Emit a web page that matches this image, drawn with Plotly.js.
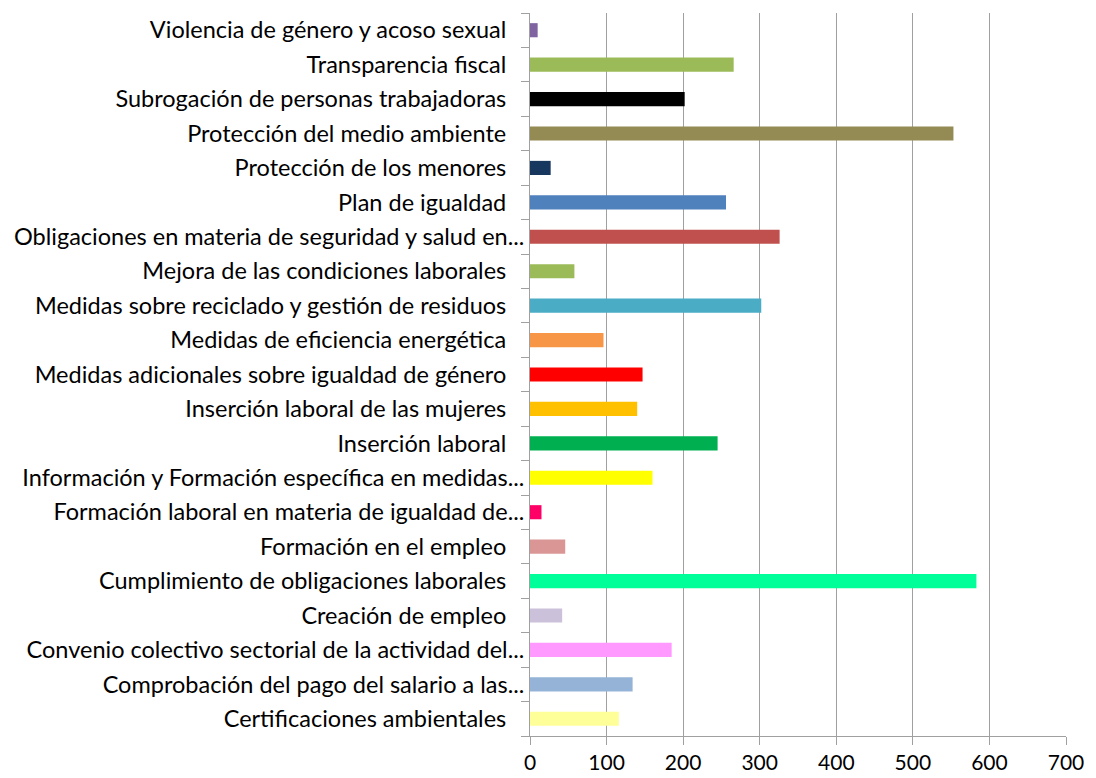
<!DOCTYPE html>
<html>
<head>
<meta charset="utf-8">
<script src="https://cdn.plot.ly/plotly-3.0.1.min.js"></script>
<style>
  html, body { margin: 0; padding: 0; background: #fff; }
  #chart { width: 1096px; height: 778px; }
</style>
</head>
<body>
<div id="chart"></div>
<script>
// Labels that are not cut off keep a trailing gap, as in the original
const pad = '\u00a0\u00a0\u00a0';

// Categories from bottom to top (Plotly draws the first category at the bottom)
const categories = [
    'Certificaciones ambientales' + pad,
    'Comprobación del pago del salario a las...',
    'Convenio colectivo sectorial de la actividad del...',
    'Creación de empleo' + pad,
    'Cumplimiento de obligaciones laborales' + pad,
    'Formación en el empleo' + pad,
    'Formación laboral en materia de igualdad de...',
    'Información y Formación específica en medidas...',
    'Inserción laboral' + pad,
    'Inserción laboral de las mujeres' + pad,
    'Medidas adicionales sobre igualdad de género' + pad,
    'Medidas de eficiencia energética' + pad,
    'Medidas sobre reciclado y gestión de residuos' + pad,
    'Mejora de las condiciones laborales' + pad,
    'Obligaciones en materia de seguridad y salud en...',
    'Plan de igualdad' + pad,
    'Protección de los menores' + pad,
    'Protección del medio ambiente' + pad,
    'Subrogación de personas trabajadoras' + pad,
    'Transparencia fiscal' + pad,
    'Violencia de género y acoso sexual' + pad
];

const counts = [116, 134, 185, 42, 583, 46, 15, 160, 245, 140, 147, 96, 302, 58, 326, 256, 27, 553, 202, 266, 10];

const barColors = [
    '#FFFF99', '#95B3D7', '#FF99FF', '#CCC1DA', '#00FF99', '#D99694', '#FF0066',
    '#FFFF00', '#00B050', '#FFC000', '#FF0000', '#F79646', '#4BACC6', '#9BBB59',
    '#C0504D', '#4F81BD', '#17375E', '#948A54', '#000000', '#9BBB59', '#8064A2'
];

const xTicks = [0, 100, 200, 300, 400, 500, 600, 700];

// Bar trace
const barTrace = {
    type: 'bar',
    orientation: 'h',
    x: counts,
    y: categories,
    marker: { color: barColors },
    hoverinfo: 'x+y'
};

const layout = {
    width: 1096,
    height: 778,
    margin: { l: 530, r: 30, t: 13, b: 42 },
    paper_bgcolor: '#ffffff',
    plot_bgcolor: '#ffffff',
    font: { family: 'Lato, "Open Sans", sans-serif', size: 23.5, color: '#000000' },
    bargap: 0.59,
    showlegend: false,
    xaxis: {
        range: [0, 700],
        tickvals: xTicks,
        ticktext: xTicks.map(String),
        showgrid: true,
        gridcolor: '#a0a0a0',
        gridwidth: 1,
        zeroline: false,
        showline: true,
        linecolor: '#a0a0a0',
        ticks: 'outside',
        ticklen: 8,
        tickcolor: '#a0a0a0',
        tickfont: { size: 21 }
    },
    yaxis: {
        type: 'category',
        categoryorder: 'array',
        categoryarray: categories,
        showgrid: false,
        zeroline: false,
        showline: true,
        linecolor: '#a0a0a0',
        ticks: 'outside',
        tickson: 'boundaries',
        ticklen: 8,
        tickcolor: '#a0a0a0',
        tickfont: { size: 23.5 },
        automargin: false
    }
};

Plotly.newPlot('chart', [barTrace], layout, { staticPlot: true });
</script>
</body>
</html>
